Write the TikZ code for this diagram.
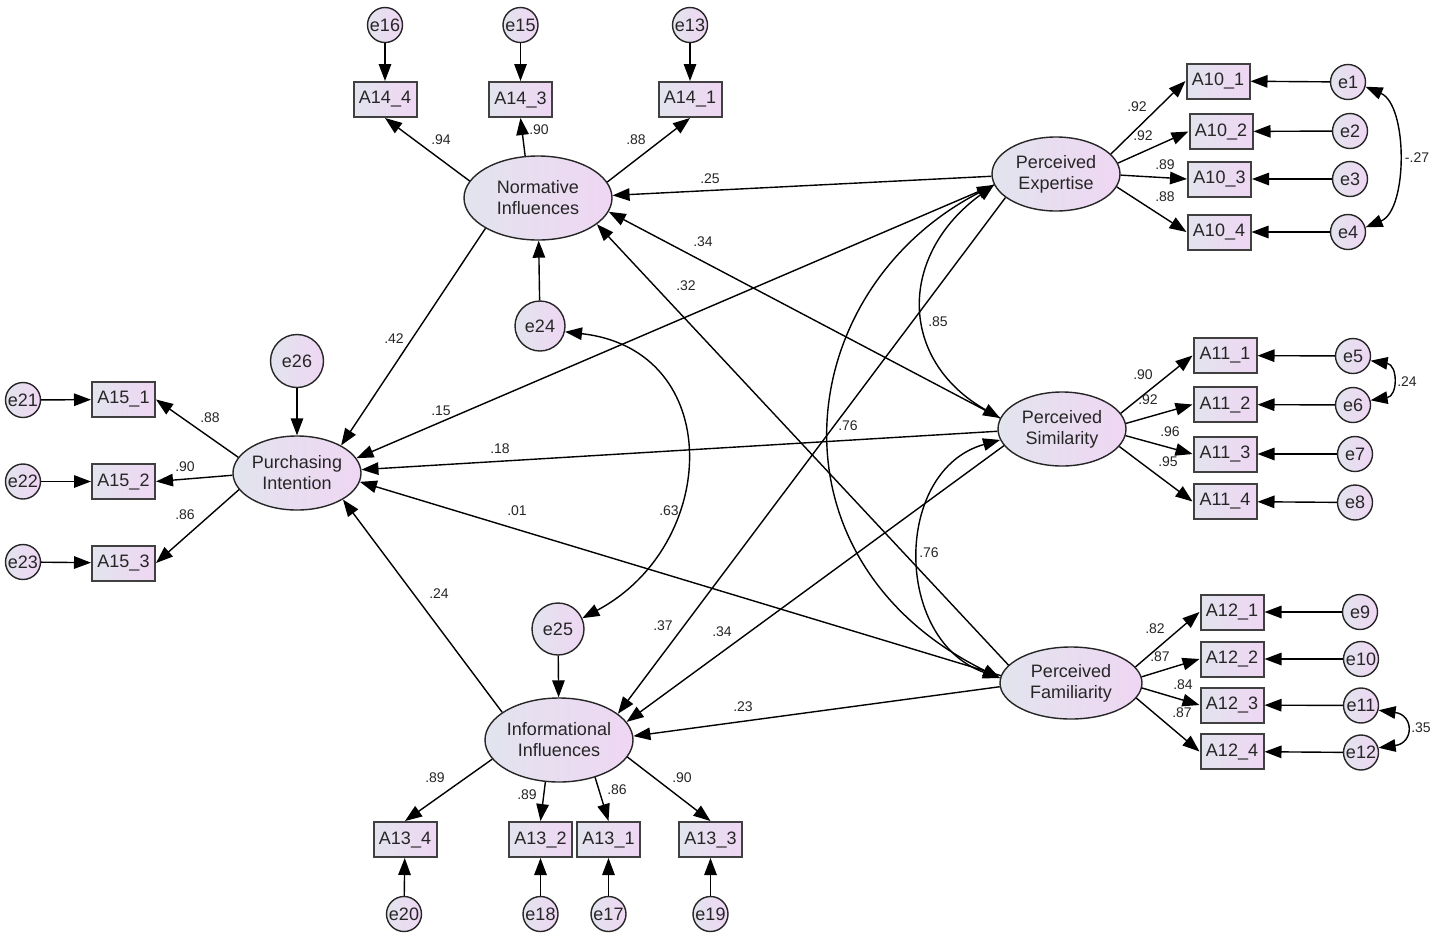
\documentclass[tikz,border=0pt]{standalone}
\usepackage{fontspec}
\setmainfont{Liberation Sans}
\usetikzlibrary{arrows.meta,shapes.geometric}
\definecolor{fillL}{RGB}{226,228,238}
\definecolor{fillR}{RGB}{239,214,243}
\begin{document}
\begin{tikzpicture}[x=1pt,y=1pt,
 every node/.style={text=black!85},
 latent/.style={ellipse, draw=black!85, line width=1.4pt, left color=fillL, right color=fillR, inner sep=0pt, align=center, font=\fontsize{18}{21}\selectfont},
 obs/.style={rectangle, draw=black!75, line width=2pt, left color=fillL, right color=fillR, minimum width=63pt, minimum height=35pt, inner sep=0pt, font=\fontsize{18}{21}\selectfont},
 err/.style={circle, draw=black!85, line width=1.4pt, left color=fillL, right color=fillR, minimum size=35pt, inner sep=0pt, font=\fontsize{18}{21}\selectfont},
 reg/.style={-{Triangle[length=17pt,width=12.5pt]}, line width=1.4pt},
 cov/.style={{Triangle[length=17pt,width=12.5pt]}-{Triangle[length=17pt,width=12.5pt]}, line width=1.4pt},
 lbl/.style={font=\fontsize{14}{16}\selectfont, inner sep=0pt}]
\useasboundingbox[fill=white] (0,0) rectangle (1433,-938);

% latent variables
\node[latent, minimum width=148pt, minimum height=84pt] (NI) at (538,-198) {Normative\\Influences};
\node[latent, minimum width=128pt, minimum height=74pt] (PI) at (297,-473) {Purchasing\\Intention};
\node[latent, minimum width=148pt, minimum height=84pt] (II) at (559,-740) {Informational\\Influences};
\node[latent, minimum width=128pt, minimum height=74pt] (PE) at (1056,-174) {Perceived\\Expertise};
\node[latent, minimum width=128pt, minimum height=74pt] (PS) at (1062,-429) {Perceived\\Similarity};
\node[latent, minimum width=142pt, minimum height=72pt] (PF) at (1071,-683) {Perceived\\Familiarity};

% observed
\node[obs] (A144) at (385,-99.5) {A14\_4};
\node[obs] (A143) at (520.5,-99.5) {A14\_3};
\node[obs] (A141) at (690,-99.5) {A14\_1};
\node[obs] (A101) at (1218,-81) {A10\_1};
\node[obs] (A102) at (1221,-131.5) {A10\_2};
\node[obs] (A103) at (1219.5,-179) {A10\_3};
\node[obs] (A104) at (1219,-232) {A10\_4};
\node[obs] (A111) at (1225,-355.5) {A11\_1};
\node[obs] (A112) at (1225,-404.5) {A11\_2};
\node[obs] (A113) at (1225,-454) {A11\_3};
\node[obs] (A114) at (1225,-501.5) {A11\_4};
\node[obs] (A121) at (1232,-612) {A12\_1};
\node[obs] (A122) at (1232,-659) {A12\_2};
\node[obs] (A123) at (1232,-705) {A12\_3};
\node[obs] (A124) at (1232,-751.5) {A12\_4};
\node[obs] (A151) at (123.5,-399.5) {A15\_1};
\node[obs] (A152) at (123.5,-481.5) {A15\_2};
\node[obs] (A153) at (123.5,-563) {A15\_3};
\node[obs] (A134) at (405,-839.5) {A13\_4};
\node[obs] (A132) at (540.5,-839.5) {A13\_2};
\node[obs] (A131) at (608.5,-839.5) {A13\_1};
\node[obs] (A133) at (710.5,-839.5) {A13\_3};

% errors
\node[err] (e16) at (385,-25) {e16};
\node[err] (e15) at (520.5,-25) {e15};
\node[err] (e13) at (690,-25) {e13};
\node[err] (e1) at (1348,-82) {e1};
\node[err] (e2) at (1350,-131) {e2};
\node[err] (e3) at (1350,-179) {e3};
\node[err] (e4) at (1348,-232) {e4};
\node[err] (e5) at (1353,-356) {e5};
\node[err] (e6) at (1353,-405) {e6};
\node[err] (e7) at (1355,-454) {e7};
\node[err] (e8) at (1355,-502.5) {e8};
\node[err] (e9) at (1360,-612) {e9};
\node[err] (e10) at (1361,-659) {e10};
\node[err] (e11) at (1361,-705.5) {e11};
\node[err] (e12) at (1361,-752.5) {e12};
\node[err] (e21) at (23,-400) {e21};
\node[err] (e22) at (23,-481.5) {e22};
\node[err] (e23) at (23,-562) {e23};
\node[err] (e20) at (404,-914) {e20};
\node[err] (e18) at (540.5,-914) {e18};
\node[err] (e17) at (608.5,-914) {e17};
\node[err] (e19) at (710.5,-914) {e19};
\node[err, minimum size=53pt] (e26) at (297,-361) {e26};
\node[err, minimum size=50pt] (e24) at (540,-326) {e24};
\node[err, minimum size=52pt] (e25) at (558,-629) {e25};

% error paths
\foreach \e/\a in {e16/A144,e15/A143,e13/A141,e1/A101,e2/A102,e3/A103,e4/A104,
  e5/A111,e6/A112,e7/A113,e8/A114,e9/A121,e10/A122,e11/A123,e12/A124,
  e21/A151,e22/A152,e23/A153,e20/A134,e18/A132,e17/A131,e19/A133,
  e26/PI,e24/NI,e25/II}
  \draw[reg] (\e) -- (\a);

% loadings
\draw[reg] (NI.166) -- (A144.south);
\draw[reg] (NI.107) -- (A143.south);
\draw[reg] (NI.13) -- (A141.south);
\draw[reg] (PE.20) -- (A101.west);
\draw[reg] (PE.10) -- (A102.west);
\draw[reg] (PE.359) -- (A103.west);
\draw[reg] (PE.348) -- (A104.west);
\draw[reg] (PS.15) -- (A111.west);
\draw[reg] (PS.5) -- (A112.west);
\draw[reg] (PS.354) -- (A113.west);
\draw[reg] (PS.343) -- (A114.west);
\draw[reg] (PF.14) -- (A121.west);
\draw[reg] (PF.5) -- (A122.west);
\draw[reg] (PF.356) -- (A123.west);
\draw[reg] (PF.347) -- (A124.west);
\draw[reg] (PI.165) -- (A151.east);
\draw[reg] (PI.182) -- (A152.east);
\draw[reg] (PI.196) -- (A153.east);
\draw[reg] (II.196) -- (A134.north);
\draw[reg] (II.252) -- (A132.north);
\draw[reg] (II.314) -- (A131.north);
\draw[reg] (II.346) -- (A133.north);

% structural paths
\draw[reg] (PE.182) -- (NI.2);
\draw[reg] (PS.170) -- (NI.349);
\draw[reg] (PF.164) -- (NI.336);
\draw[reg] (NI.210) -- (PI.32);
\draw[reg] (PE.190) -- (PI.14);
\draw[reg] (PS.182) -- (PI.3);
\draw[reg] (PF.174) -- (PI.352);
\draw[reg] (II.154) -- (PI.330);
\draw[reg] (PE.205) -- (II.24);
\draw[reg] (PS.196) -- (II.15);
\draw[reg] (PF.183) -- (II.3);

% covariances
\draw[cov] (PE.190) .. controls (898,-255) and (898,-360) .. (PS.170);
\draw[cov] (PE.190) .. controls (790,-290) and (760,-560) .. (PF.176);
\draw[cov] (PS.190) .. controls (893,-470) and (893,-640) .. (PF.176);
\draw[cov] (e24.347) .. controls (726,-350) and (720,-545) .. (e25.24);
\draw[cov] (e1.-15) .. controls (1408,-105) and (1408,-210) .. (e4.15);
\draw[cov] (e5.-15) .. controls (1398,-365) and (1398,-396) .. (e6.15);
\draw[cov] (e11.-15) .. controls (1414,-715) and (1414,-743) .. (e12.15);

% labels
\node[lbl] (l1) at (441,-140) {.94};
\node[lbl] (l2) at (539,-130) {.90};
\node[lbl] (l3) at (636,-140) {.88};
\node[lbl] (l4) at (1137,-107) {.92};
\node[lbl] (l5) at (1143,-136) {.92};
\node[lbl] (l6) at (1165,-165) {.89};
\node[lbl] (l7) at (1165,-197) {.88};
\node[lbl] (l8) at (1143,-375) {.90};
\node[lbl] (l9) at (1148,-400) {.92};
\node[lbl] (l10) at (1170,-432) {.96};
\node[lbl] (l11) at (1168,-462) {.95};
\node[lbl] (l12) at (1155,-629) {.82};
\node[lbl] (l13) at (1160,-657) {.87};
\node[lbl] (l14) at (1183,-685) {.84};
\node[lbl] (l15) at (1182,-713) {.87};
\node[lbl] (l16) at (210,-418) {.88};
\node[lbl] (l17) at (185,-467) {.90};
\node[lbl] (l18) at (185,-515) {.86};
\node[lbl] (l19) at (435,-778) {.89};
\node[lbl] (l20) at (527,-795) {.89};
\node[lbl] (l21) at (617,-790) {.86};
\node[lbl] (l22) at (682,-778) {.90};
\node[lbl] (l23) at (1417,-158) {-.27};
\node[lbl] (l24) at (1407,-382) {.24};
\node[lbl] (l25) at (1421,-728) {.35};
\node[lbl] (l26) at (710,-179) {.25};
\node[lbl] (l27) at (703,-242) {.34};
\node[lbl] (l28) at (686,-286) {.32};
\node[lbl] (l29) at (394,-339) {.42};
\node[lbl] (l30) at (441,-411) {.15};
\node[lbl] (l31) at (500,-449) {.18};
\node[lbl] (l32) at (517,-511) {.01};
\node[lbl] (l33) at (439,-594) {.24};
\node[lbl] (l34) at (663,-626) {.37};
\node[lbl] (l35) at (722,-632) {.34};
\node[lbl] (l36) at (743,-707) {.23};
\node[lbl] (l37) at (938,-322) {.85};
\node[lbl] (l38) at (848,-426) {.76};
\node[lbl] (l39) at (929,-553) {.76};
\node[lbl] (l40) at (669,-511) {.63};
\end{tikzpicture}
\end{document}
